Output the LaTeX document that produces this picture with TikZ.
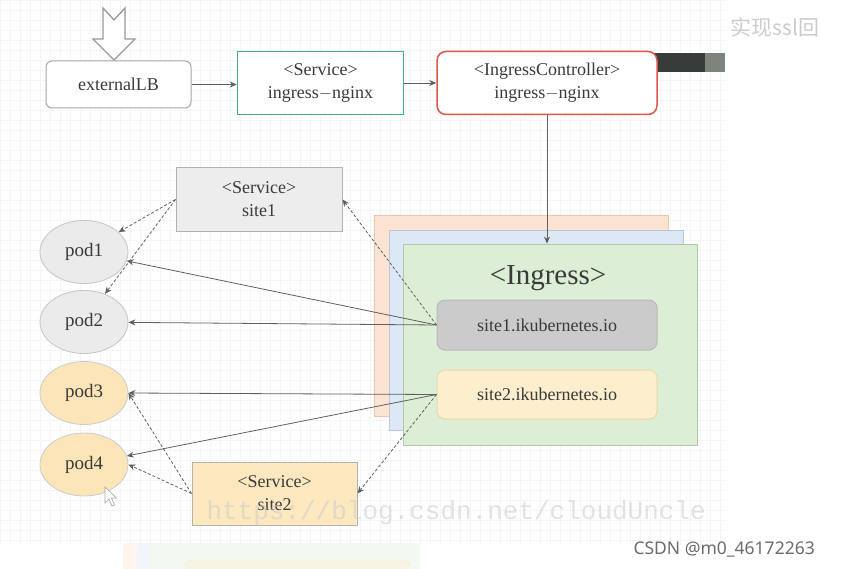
\documentclass[tikz,border=0pt]{standalone}
\usepackage{fontspec}
\setmainfont{Liberation Serif}
\newfontfamily\cjk{Noto Sans CJK SC}
\newfontfamily\notosans{Noto Sans}
\newfontfamily\monof{Liberation Mono}
\usetikzlibrary{arrows.meta,shapes.geometric}
\definecolor{txt}{HTML}{3A3A3A}
\definecolor{ln}{HTML}{606060}
\definecolor{gridc}{HTML}{F5F5F7}
\definecolor{svcgreen}{HTML}{3DB37A}
\definecolor{icred}{HTML}{D9574A}
\definecolor{grayfill}{HTML}{EDEDED}
\definecolor{podgray}{HTML}{EBEBEB}
\definecolor{podyel}{HTML}{FCE6B9}
\definecolor{svcyel}{HTML}{FDE8BF}
\definecolor{orfill}{HTML}{FDE3D2}
\definecolor{ordraw}{HTML}{E9C6B0}
\definecolor{blfill}{HTML}{DCE8F5}
\definecolor{bldraw}{HTML}{B9C9DA}
\definecolor{grfill}{HTML}{DDEED6}
\definecolor{grdraw}{HTML}{B3C8AA}
\definecolor{r1fill}{HTML}{CBCBCB}
\definecolor{r2fill}{HTML}{FDEFCD}
\definecolor{r2draw}{HTML}{E8D8AA}
\definecolor{bardark}{HTML}{363D38}
\definecolor{barlight}{HTML}{7D847E}
\tikzset{
  x=1pt, y=-1pt,
  box/.style={draw=#1, line width=1pt, text=txt, align=center, inner sep=0pt,
    font=\fontsize{18}{23}\selectfont},
  pod/.style={ellipse, draw=#1, line width=0.8pt, minimum width=88pt, minimum height=63pt,
    inner sep=0pt, text=txt, font=\fontsize{19}{21}\selectfont},
  conn/.style={draw=ln, line width=0.8pt, -{Stealth[length=7pt,width=6pt]}},
  dconn/.style={conn, dash pattern=on 3pt off 2pt},
  stack/.style={draw=#1, line width=0.8pt, inner sep=0pt}
}
\begin{document}
\begin{tikzpicture}
\useasboundingbox (0,0) rectangle (842,569);
\fill[white] (0,0) rectangle (842,569);
% faint canvas grid
\draw[gridc, line width=0.3pt, step=10pt] (0,0) grid (725,545);

% dark bar at top right
\fill[bardark] (650,53) rectangle (705,72);
\fill[barlight] (705,53) rectangle (725,72);

% hollow down arrow
\draw[line width=1.3pt, draw=gray!80, fill=white]
  (103,8) -- (114,20) -- (125,8) -- (125,39) -- (135,39) -- (114,60) -- (93,39) -- (103,39) -- cycle;

% top row
\node[box=gray!70, rounded corners=6pt, minimum width=145pt, minimum height=47pt, fill=white]
  (lb) at (118.5,84.5) {externalLB};
\node[box=svcgreen, line width=1.5pt, minimum width=166pt, minimum height=63pt, fill=white]
  (svc) at (320.5,83) {<Service>\\ingress$-$nginx};
\node[box=icred, line width=1.5pt, rounded corners=9pt, minimum width=220pt, minimum height=63pt, fill=white]
  (ic) at (547,83) {<IngressController>\\ingress$-$nginx};

% service site1
\node[box=gray!60, fill=grayfill, minimum width=166pt, minimum height=63pt]
  (s1) at (259,199.5) {<Service>\\site1};

% pods
\node[pod=gray!45, fill=podgray] (pod1) at (84,252) {pod1};
\node[pod=gray!45, fill=podgray] (pod2) at (84,322) {pod2};
\node[pod=gray!40, fill=podyel] (pod3) at (84,393) {pod3};
\node[pod=gray!40, fill=podyel] (pod4) at (84,464.5) {pod4};

% service site2
\node[box=gray!60, fill=svcyel, minimum width=165pt, minimum height=63pt]
  (s2) at (274.5,493.5) {<Service>\\site2};

% ingress stack
\node[stack=ordraw, fill=orfill, minimum width=294pt, minimum height=201pt] (ingo) at (521,315.5) {};
\node[stack=bldraw, fill=blfill, minimum width=294pt, minimum height=200pt] (ingb) at (536,330) {};
\node[stack=grdraw, fill=grfill, minimum width=294pt, minimum height=201pt] (ing) at (550,344.5) {};
\node[text=txt, font=\fontsize{29}{32}\selectfont] (ingt) at (548,278) {<Ingress>};

\node[box=gray!55, fill=r1fill, rounded corners=8pt, minimum width=220pt, minimum height=50pt]
  (r1) at (547,325) {site1.ikubernetes.io};
\node[box=r2draw, fill=r2fill, rounded corners=8pt, minimum width=220pt, minimum height=49pt]
  (r2) at (547,394.5) {site2.ikubernetes.io};

% connectors
\draw[conn] (lb.east) -- (lb.east -| svc.west);
\draw[conn] (svc.east) -- (ic.west);
\draw[conn] (ic.south) -- (ic.south |- ing.north);
\draw[conn] (r1.west) -- (pod1);
\draw[conn] (r1.west) -- (pod2);
\draw[conn] (r2.west) -- (pod3.east);
\draw[conn] (r2.west) -- (pod4);
\draw[dconn] (r1.west) -- (s1.east);
\draw[dconn] (s1.west) -- (pod1);
\draw[dconn] (s1.west) -- (pod2);
\draw[dconn] (s2.west) -- (pod3.east);
\draw[dconn] (s2.west) -- (pod4.east);
\draw[dconn] (r2.west) -- (s2.east);

% mouse cursor
\draw[gray!70, fill=white, line width=0.6pt]
  (105,487) -- (105,503) -- (109,499) -- (112,506) -- (114.5,505) -- (111.5,498) -- (116.5,498) -- cycle;

% faint lower copy of the stack
\begin{scope}[opacity=0.35]
\fill[orfill] (123,543) rectangle (137,569);
\fill[blfill] (137,543) rectangle (150,569);
\fill[grfill] (150,543) rectangle (420,569);
\draw[r2draw, fill=r2fill, rounded corners=6pt] (186,560) rectangle (410,580);
\end{scope}

% watermarks
\node[anchor=west, text=gray!40, opacity=0.55, font=\monof\fontsize{26}{28}\selectfont] (wm) at (203,513) {https://blog.csdn.net/cloudUncle};
\node[anchor=west, text=gray!40, font=\cjk\fontsize{21}{24}\selectfont] (ssl) at (727,27) {实现ssl回};
\node[anchor=west, text=gray!85!black, font=\notosans\fontsize{17.5}{20}\selectfont] (csdn) at (630,549) {CSDN @m0\_46172263};
\end{tikzpicture}
\end{document}
